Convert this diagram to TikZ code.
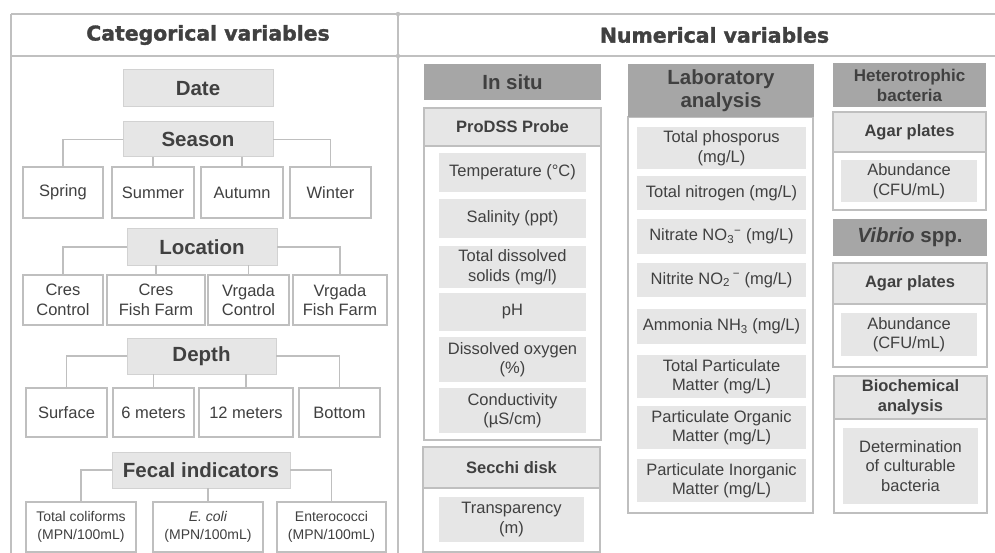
\documentclass[tikz,border=0pt]{standalone}
\usepackage{fontspec}
\setmainfont{Liberation Sans}
\newfontfamily\titlefont[BoldFont={DejaVu Sans Bold}, BoldFeatures={FakeBold=1.6}]{DejaVu Sans}
\definecolor{txt}{HTML}{404040}
\definecolor{linec}{HTML}{BFBFBF}
\definecolor{framec}{HTML}{C0C0C0}
\definecolor{lightf}{HTML}{E6E6E6}
\definecolor{lightb}{HTML}{D2D2D2}
\definecolor{darkf}{HTML}{A6A6A6}
\begin{document}
\begin{tikzpicture}[x=1pt,y=-1pt,
  every node/.style={inner sep=0pt, outer sep=0pt, text=txt, align=center},
  bigtitle/.style={font=\titlefont\bfseries\fontsize{20.4}{24}\selectfont},
  cathead/.style={fill=lightf, draw=lightb, line width=1pt, font=\bfseries\fontsize{20.5}{24}\selectfont},
  catitem/.style={fill=white, draw=linec, line width=1.2pt, font=\fontsize{16.5}{19.5}\selectfont},
  smallitem/.style={fill=white, draw=linec, line width=1.2pt, font=\fontsize{14}{18}\selectfont},
  darkhead/.style={fill=darkf, font=\bfseries\fontsize{20.5}{23}\selectfont},
  darkheadsm/.style={fill=darkf, font=\bfseries\fontsize{17}{20}\selectfont},
  framehead/.style={fill=lightf, draw=linec, line width=1.2pt, font=\bfseries\fontsize{16.5}{20}\selectfont},
  framebody/.style={fill=white, draw=linec, line width=1.2pt},
  item/.style={fill=lightf, font=\fontsize{16.5}{19.5}\selectfont},
  conn/.style={draw=linec, line width=1.3pt},
  outer/.style={draw=framec, line width=2pt}
]
\useasboundingbox (0,0) rectangle (995,553);

% ---------- outer frame ----------
\coordinate (tl) at (11,14);
\coordinate (tr) at (995,14);
\coordinate (ml) at (11,56);
\coordinate (mr) at (995,56);
\coordinate (bl) at (11,553);
\coordinate (dt) at (398,14);
\coordinate (dm) at (398,56);
\coordinate (db) at (398,553);
\draw[outer] (tl) -- (tr);
\draw[outer] (ml) -- (mr);
\draw[outer] (tl) -- (bl);
\draw[outer] (dt) -- (db);
\fill[framec] (dt) circle (2.2);
\fill[framec] (dm) circle (2.2);

\node[bigtitle] (cattitle) at (208,35) {Categorical variables};
\node[bigtitle] (numtitle) at (714.5,35) {Numerical variables};

% ---------- categorical ----------
\node[cathead, minimum width=150pt, minimum height=37pt] (date) at (198,88.5) {Date};

\node[cathead, minimum width=150pt, minimum height=35pt] (season) at (198,139.5) {Season};
\node[catitem, minimum width=80pt, minimum height=51pt] (spring) at (63,192.5) {Spring};
\node[catitem, minimum width=82pt, minimum height=51pt] (summer) at (153,192.5) {Summer};
\node[catitem, minimum width=82pt, minimum height=51pt] (autumn) at (242,192.5) {Autumn};
\node[catitem, minimum width=81pt, minimum height=51pt] (winter) at (330.5,192.5) {Winter};
\draw[conn] (season.west) -| (spring.north);
\draw[conn] (season.east) -| (winter.north);
\draw[conn] (season.south -| summer.north) -- (summer.north);
\draw[conn] (season.south -| autumn.north) -- (autumn.north);

\node[cathead, minimum width=150pt, minimum height=36pt] (location) at (202,247) {Location};
\node[catitem, minimum width=80pt, minimum height=50pt] (cresc) at (63,300) {Cres\\Control};
\node[catitem, minimum width=98pt, minimum height=50pt] (cresf) at (156,300) {Cres\\Fish Farm};
\node[catitem, minimum width=81pt, minimum height=50pt] (vrgc) at (248.5,300) {Vrgada\\Control};
\node[catitem, minimum width=94pt, minimum height=50pt] (vrgf) at (340,300) {Vrgada\\Fish Farm};
\draw[conn] (location.west) -| (cresc.north);
\draw[conn] (location.east) -| (vrgf.north);
\draw[conn] (location.south -| cresf.north) -- (cresf.north);
\draw[conn] (location.south -| vrgc.north) -- (vrgc.north);

\node[cathead, minimum width=149pt, minimum height=36pt] (depth) at (201.5,356) {Depth};
\node[catitem, minimum width=81pt, minimum height=49pt] (surface) at (66.5,412.5) {Surface};
\node[catitem, minimum width=81pt, minimum height=49pt] (sixm) at (153.5,412.5) {6 meters};
\node[catitem, minimum width=94pt, minimum height=49pt] (twelvem) at (246,412.5) {12 meters};
\node[catitem, minimum width=81pt, minimum height=49pt] (bottom) at (339.5,412.5) {Bottom};
\draw[conn] (depth.west) -| (surface.north);
\draw[conn] (depth.east) -| (bottom.north);
\draw[conn] (depth.south -| sixm.north) -- (sixm.north);
\draw[conn] (depth.south -| twelvem.north) -- (twelvem.north);

\node[cathead, minimum width=178pt, minimum height=36pt] (fecal) at (201,470) {Fecal indicators};
\node[smallitem, minimum width=110pt, minimum height=50pt] (totcol) at (81,527) {Total coliforms\\(MPN/100mL)};
\node[smallitem, minimum width=110pt, minimum height=50pt] (ecoli) at (208,527) {\textit{E. coli}\\(MPN/100mL)};
\node[smallitem, minimum width=109pt, minimum height=50pt] (entero) at (331.5,527) {Enterococci\\(MPN/100mL)};
\draw[conn] (fecal.west) -| (totcol.north);
\draw[conn] (fecal.east) -| (entero.north);
\draw[conn] (fecal.south -| ecoli.north) -- (ecoli.north);

% ---------- numerical: in situ ----------
\node[darkhead, minimum width=177pt, minimum height=36pt] (insitu) at (512.5,82) {In situ};
\node[framebody, minimum width=177pt, minimum height=294pt] (probeB) at (512.5,293) {};
\node[framehead, minimum width=177pt, minimum height=38pt] (probeH) at (512.5,127) {ProDSS Probe};
\node[item, minimum width=147pt, minimum height=39pt] (temp) at (512.5,172.5) {Temperature (°C)};
\node[item, minimum width=147pt, minimum height=39pt] (sal) at (512.5,218.5) {Salinity (ppt)};
\node[item, minimum width=147pt, minimum height=42pt] (tds) at (512.5,267) {Total dissolved\\solids (mg/l)};
\node[item, minimum width=147pt, minimum height=38pt] (ph) at (512.5,312) {pH};
\node[item, minimum width=147pt, minimum height=45pt] (dox) at (512.5,359.5) {Dissolved oxygen\\(\%)};
\node[item, minimum width=147pt, minimum height=45pt] (cond) at (512.5,410.5) {Conductivity\\(µS/cm)};

\node[framebody, minimum width=177pt, minimum height=64pt] (secchiB) at (511.5,520) {};
\node[framehead, minimum width=177pt, minimum height=41pt] (secchiH) at (511.5,467.5) {Secchi disk};
\node[item, minimum width=145pt, minimum height=45pt] (transp) at (511.5,519.5) {Transparency\\(m)};

% ---------- numerical: laboratory ----------
\node[framebody, minimum width=185pt, minimum height=396pt] (labB) at (720.5,315) {};
\node[darkhead, minimum width=186pt, minimum height=53pt] (labH) at (721,90.5) {Laboratory\\analysis};
\node[item, minimum width=169pt, minimum height=42pt] (tp) at (721.5,148) {Total phosporus\\(mg/L)};
\node[item, minimum width=169pt, minimum height=34pt] (tn) at (721.5,193) {Total nitrogen (mg/L)};
\node[item, minimum width=169pt, minimum height=35pt] (nitrate) at (721.5,236.5) {Nitrate NO\textsubscript{3}\textsuperscript{−} (mg/L)};
\node[item, minimum width=169pt, minimum height=34pt] (nitrite) at (721.5,280) {Nitrite NO\textsubscript{2}\,\textsuperscript{−} (mg/L)};
\node[item, minimum width=169pt, minimum height=35pt] (ammonia) at (721.5,326.5) {Ammonia NH\textsubscript{3} (mg/L)};
\node[item, minimum width=169pt, minimum height=43pt] (tpm) at (721.5,376.5) {Total Particulate\\Matter (mg/L)};
\node[item, minimum width=169pt, minimum height=43pt] (pom) at (721.5,427.5) {Particulate Organic\\Matter (mg/L)};
\node[item, minimum width=169pt, minimum height=43pt] (pim) at (721.5,480.5) {Particulate Inorganic\\Matter (mg/L)};

% ---------- numerical: bacteria ----------
\node[darkheadsm, minimum width=153pt, minimum height=44pt] (hetero) at (909.5,85) {Heterotrophic\\bacteria};
\node[framebody, minimum width=153pt, minimum height=58pt] (agar1B) at (909.5,181) {};
\node[framehead, minimum width=153pt, minimum height=40pt] (agar1H) at (909.5,132) {Agar plates};
\node[item, minimum width=136pt, minimum height=42pt] (abund1) at (909,181) {Abundance\\(CFU/mL)};

\node[darkhead, minimum width=154pt, minimum height=37pt] (vibrio) at (910,237.5) {\itshape Vibrio\upshape{} spp.};
\node[framebody, minimum width=154pt, minimum height=63pt] (agar2B) at (910,335.5) {};
\node[framehead, minimum width=154pt, minimum height=41pt] (agar2H) at (910,283.5) {Agar plates};
\node[item, minimum width=136pt, minimum height=43pt] (abund2) at (909,334.5) {Abundance\\(CFU/mL)};

\node[framebody, minimum width=153pt, minimum height=94pt] (bioB) at (910.5,466) {};
\node[framehead, minimum width=153pt, minimum height=43pt] (bioH) at (910.5,397.5) {Biochemical\\analysis};
\node[item, minimum width=135pt, minimum height=76pt] (determ) at (910.5,466) {Determination\\of culturable\\bacteria};
\end{tikzpicture}
\end{document}
